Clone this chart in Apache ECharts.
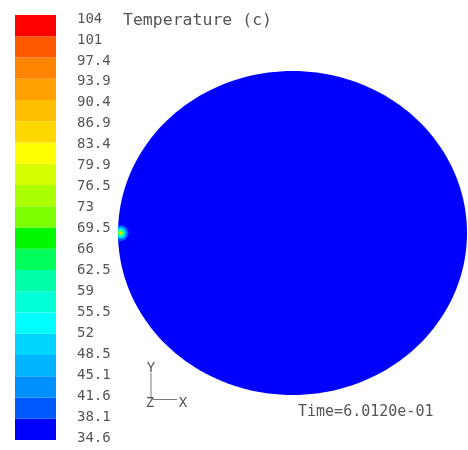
<!DOCTYPE html>
<html><head><meta charset="utf-8">
<script src="https://cdn.jsdelivr.net/npm/echarts@6/dist/echarts.min.js"></script>
<style>html,body{margin:0;padding:0;background:#fff}#c{width:468px;height:450px}</style>
</head><body><div id="c"></div>
<script>
// ---- data ----
const tickLabels = ['34.6','38.1','41.6','45.1','48.5','52','55.5','59','62.5','66','69.5','73','76.5','79.9','83.4','86.9','90.4','93.9','97.4','101','104'];
const bandColors = ['#0000ff','#0058ff','#0090ff','#00b4ff','#00d4ff','#00ffff','#00ffd4','#00ffaa','#00ff5a','#00f800','#7cff00','#aaff00','#d8ff00','#ffff00','#ffd800','#ffbe00','#ffa000','#ff8400','#ff5a00','#ff0000'];
const tempMin = 34.6;
const tempMax = 104;
const titleText = 'Temperature (c)';
const timeText = 'Time=6.0120e-01';
// domain: circular cross-section (centre x, centre y, radius, temperature)
const domain = [[0, 0, 1, 35.0]];
// hot spot on the left wall: rings (x, y, radius, temperature)
const spotX = [-0.985, -0.985, -0.985, -0.985, -0.985];
const spotY = [0, 0, 0, 0, 0];
const spotR = [0.046, 0.034, 0.024, 0.014, 0.007];
const spotT = [40.5, 47, 57, 70, 84];

function bandOf(t){
  let i = Math.floor((t - tempMin) / (tempMax - tempMin) * bandColors.length);
  return Math.max(0, Math.min(bandColors.length - 1, i));
}
const FONT = '"DejaVu Sans Mono", monospace';
const GRAY = '#555';

const chart = echarts.init(document.getElementById('c'), null, {renderer: 'canvas'});
const bandData = bandColors.map((c, i) => [i, i + 1]);
const spotData = spotR.map((r, i) => [spotX[i], spotY[i], r, spotT[i]]);

chart.setOption({
  animation: false,
  backgroundColor: '#fff',
  title: {
    text: titleText, left: 118, top: 7,
    textStyle: {fontFamily: FONT, fontSize: 16.5, fontWeight: 'normal', color: GRAY}
  },
  grid: [
    {left: 15, width: 41, top: 15, height: 425},
    {left: 118, right: 1, top: 71, bottom: 55},
    {left: 15, width: 41, top: 19, height: 419}
  ],
  xAxis: [
    {gridIndex: 0, type: 'value', min: 0, max: 1, show: false},
    {gridIndex: 1, type: 'value', min: -1, max: 1, show: false},
    {gridIndex: 2, type: 'value', min: 0, max: 1, show: false}
  ],
  yAxis: [
    {gridIndex: 0, type: 'value', min: 0, max: 20, interval: 1, show: false},
    {gridIndex: 1, type: 'value', min: -1, max: 1, show: false},
    {gridIndex: 2, type: 'value', min: 0, max: 20, interval: 1, position: 'right',
     axisLine: {show: false}, axisTick: {show: false}, splitLine: {show: false},
     axisLabel: {show: true, margin: 21, color: GRAY, fontFamily: FONT, fontSize: 14,
       formatter: v => tickLabels[Math.round(v)] || ''}}
  ],
  series: [
    {
      type: 'custom', xAxisIndex: 0, yAxisIndex: 0, data: bandData,
      renderItem: (params, api) => {
        const i = params.dataIndex;
        const p0 = api.coord([0, api.value(1)]);
        const p1 = api.coord([1, api.value(0)]);
        return {type: 'rect', shape: {x: p0[0], y: p0[1], width: p1[0] - p0[0], height: p1[1] - p0[1]},
                style: {fill: bandColors[i]}};
      }
    },
    {
      type: 'custom', xAxisIndex: 1, yAxisIndex: 1, data: domain, z: 2,
      renderItem: (params, api) => {
        const cx = api.value(0), cy = api.value(1), r = api.value(2), t = api.value(3);
        const pts = [];
        for (let k = 0; k < 180; k++) {
          const a = k / 180 * Math.PI * 2;
          pts.push(api.coord([cx + r * Math.cos(a), cy + r * Math.sin(a)]));
        }
        return {type: 'polygon', shape: {points: pts}, style: {fill: bandColors[bandOf(t)]}};
      }
    },
    {
      type: 'custom', xAxisIndex: 1, yAxisIndex: 1, data: spotData, z: 3, clip: true,
      renderItem: (params, api) => {
        const c = api.coord([api.value(0), api.value(1)]);
        const r = api.size([api.value(2), 0])[0];
        return {type: 'circle', shape: {cx: c[0], cy: c[1], r: r},
                style: {fill: bandColors[bandOf(api.value(3))]}};
      }
    }
  ],
  graphic: [
    {type: 'line', shape: {x1: 151, y1: 373, x2: 151, y2: 399}, style: {stroke: '#777', lineWidth: 1}},
    {type: 'line', shape: {x1: 153, y1: 399.5, x2: 177, y2: 399.5}, style: {stroke: '#777', lineWidth: 1}},
    {type: 'text', x: 151, y: 368, style: {text: 'Y', fill: GRAY, font: '14px ' + FONT, align: 'center', verticalAlign: 'middle'}},
    {type: 'text', x: 150, y: 403, style: {text: 'Z', fill: GRAY, font: '14px ' + FONT, align: 'center', verticalAlign: 'middle'}},
    {type: 'text', x: 183, y: 403, style: {text: 'X', fill: GRAY, font: '14px ' + FONT, align: 'center', verticalAlign: 'middle'}},
    {type: 'text', x: 298, y: 412, style: {text: timeText, fill: GRAY, font: '15px ' + FONT, align: 'left', verticalAlign: 'middle'}}
  ]
});
</script>
</body></html>
